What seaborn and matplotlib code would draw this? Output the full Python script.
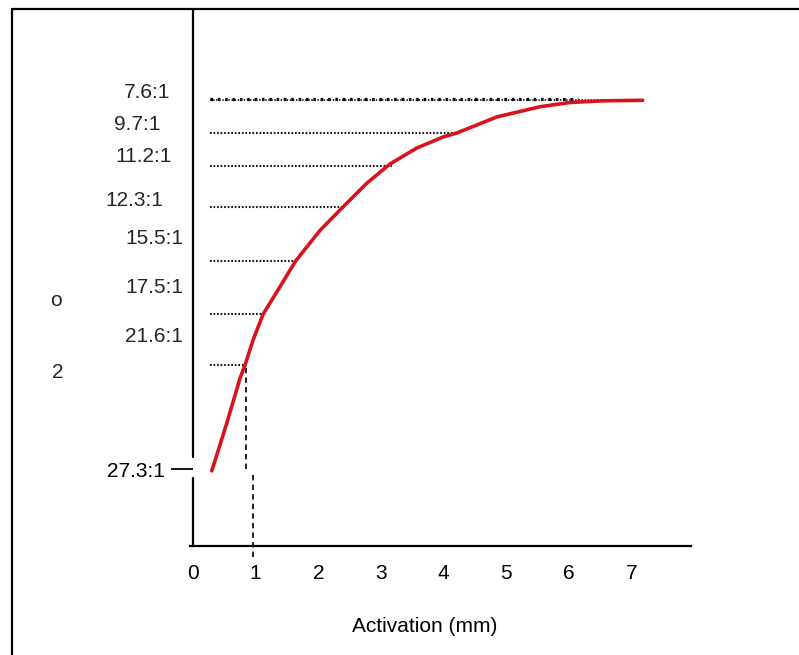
import matplotlib
matplotlib.use("Agg")
import matplotlib.pyplot as plt
from matplotlib.lines import Line2D
import seaborn as sns
import pandas as pd

# ---- data ----
activation = [0.30, 0.54, 0.75, 0.83, 0.96, 1.12, 1.39, 1.64, 2.03, 2.40,
              2.77, 3.14, 3.57, 4.00, 4.21, 4.85, 5.54, 6.02, 6.55, 7.18]
level = [1.40, 2.29, 3.12, 3.37, 3.84, 4.32, 4.83, 5.31, 5.88, 6.32,
         6.75, 7.11, 7.41, 7.62, 7.69, 7.99, 8.18, 8.26, 8.29, 8.30]

ratio_labels = ["7.6:1", "9.7:1", "11.2:1", "12.3:1", "15.5:1", "17.5:1", "21.6:1"]
ratio_levels = [8.33, 7.69, 7.08, 6.31, 5.31, 4.32, 3.37]
guide_ends = [6.15, 4.21, 3.18, 2.40, 1.63, 1.15, 0.83]
guide_start = 0.27

base_label = "27.3:1"
base_level = 1.43

x_ticks = [0, 1, 2, 3, 4, 5, 6, 7]
x_label = "Activation (mm)"

# ---- styling ----
sns.set_style("white")
plt.rcParams["font.family"] = ["Liberation Sans", "DejaVu Sans"]
FS = 15

W, H = 799, 655
fig = plt.figure(figsize=(W / 100, H / 100), dpi=100)
ax = fig.add_axes([193 / W, 1 - 546 / H, 498 / W, 537 / H])
ax.set_xlim(0, 7.95)
ax.set_ylim(0, 10)

df = pd.DataFrame({"Activation": activation, "Level": level})
sns.lineplot(data=df, x="Activation", y="Level", ax=ax, color="#d7141e",
             linewidth=2.6, sort=False, zorder=5)

# guide lines for the ratio levels
for i, (lv, xe) in enumerate(zip(ratio_levels, guide_ends)):
    if i == 0:
        ax.hlines(lv, guide_start, xe, colors="black", linewidth=2.3,
                  linestyles=[(0, (0.8, 1.5))], zorder=3)
        ax.hlines(level[-1], guide_start, activation[-1], colors="#222222",
                  linewidth=1.3, linestyles=[(0, (0.8, 0.9))], zorder=3)
    else:
        ax.hlines(lv, guide_start, xe, colors="#111111", linewidth=1.5,
                  linestyles=[(0, (0.8, 0.9))], zorder=3)

# dashed vertical markers
ax.vlines(0.85, base_level, ratio_levels[-1], colors="#111111", linewidth=1.3,
          linestyles=[(0, (3, 2.3))], zorder=4)
ax.vlines(0.96, -0.2, 1.36, colors="#111111", linewidth=1.3,
          linestyles=[(0, (3, 2.3))], zorder=4, clip_on=False)

# axes / spines
sns.despine(ax=ax, top=True, right=True, left=True)
ax.spines["bottom"].set_linewidth(1.6)
ax.spines["bottom"].set_color("black")
ax.spines["bottom"].set_bounds(-0.05, 7.95)
ax.axvline(0, ymin=0, ymax=(546 - 478) / 537, color="black", linewidth=1.6, clip_on=False)
ax.axvline(0, ymin=(546 - 457) / 537, ymax=1, color="black", linewidth=1.6, clip_on=False)

ax.set_xticks(x_ticks)
ax.set_xticklabels([str(t) for t in x_ticks])
ax.tick_params(axis="x", length=0, pad=13, labelsize=FS, colors="black")
ax.set_yticks([base_level])
ax.set_yticklabels([base_label])
ax.tick_params(axis="y", direction="out", length=15.5, width=1.3, pad=5,
               labelsize=FS, colors="black", left=True)
ax.set_xlabel(x_label, fontsize=FS, color="black")
ax.xaxis.set_label_coords((425 - 193) / 498, (546 - 617) / 537)
ax.set_ylabel("")

# ratio labels (placed off the guide lines, as in the reference)
label_pos = [(170, 93), (160, 125), (172, 157), (163, 201), (183, 239), (183, 288), (183, 336)]
for txt, (px, py) in zip(ratio_labels, label_pos):
    fig.text(px / W, 1 - py / H, txt, ha="right", va="center", fontsize=FS)

fig.text(56 / W, 1 - 300 / H, "o", ha="center", va="center", fontsize=FS)
fig.text(58 / W, 1 - 372 / H, "2", ha="center", va="center", fontsize=FS)

# outer frame (top and left edges)
fig.add_artist(Line2D([12 / W, 1.0], [1 - 9 / H, 1 - 9 / H], color="black", linewidth=1.6,
                      transform=fig.transFigure))
fig.add_artist(Line2D([12 / W, 12 / W], [0, 1 - 9 / H], color="black", linewidth=1.6,
                      transform=fig.transFigure))

fig.savefig("out.png", dpi=100)
